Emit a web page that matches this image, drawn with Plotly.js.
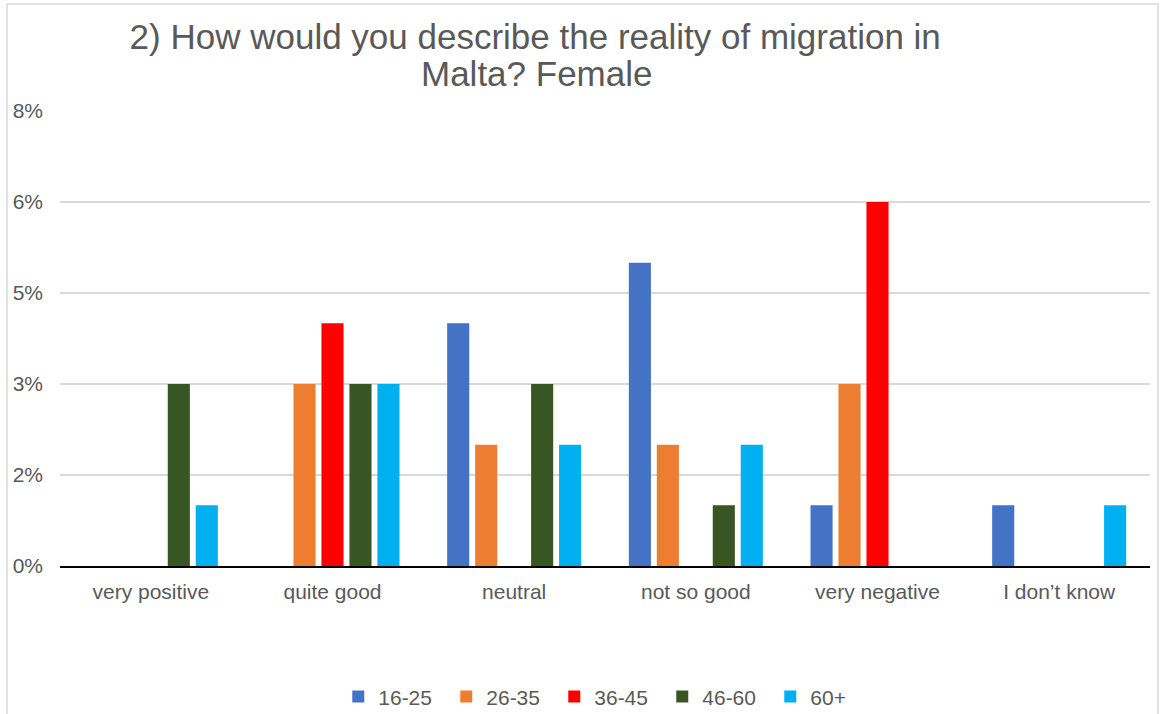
<!DOCTYPE html>
<html>
<head>
<meta charset="utf-8">
<script src="https://cdn.plot.ly/plotly-3.0.1.min.js"></script>
<style>html,body{margin:0;padding:0;background:#fff;}#chart{width:1161px;height:714px;}</style>
</head>
<body>
<div id="chart"></div>
<script>
const categories = ["very positive", "quite good", "neutral", "not so good", "very negative", "I don\u2019t know"];
const seriesNames = ["16-25", "26-35", "36-45", "46-60", "60+"];
const v16_25 = [0, 0, 0.04, 0.05, 0.01, 0.01];
const v26_35 = [0, 0.03, 0.02, 0.02, 0.03, 0];
const v36_45 = [0, 0.04, 0, 0, 0.06, 0];
const v46_60 = [0.03, 0.03, 0.03, 0.01, 0, 0];
const v60p   = [0.01, 0.03, 0.02, 0.02, 0, 0.01];
const tickVals = [0, 0.015, 0.03, 0.045, 0.06, 0.075];
const tickText = ["0%", "2%", "3%", "5%", "6%", "8%"];
const titleLine1 = "2) How would you describe the reality of migration in";
const titleLine2 = "Malta? Female";

const colors = ["#4472C4", "#ED7D31", "#FF0000", "#375623", "#00B0F0"];
const allVals = [v16_25, v26_35, v36_45, v46_60, v60p];
const font = "Liberation Sans, Arial, sans-serif";
const grey = "#595959";

const data = allVals.map((vals, i) => ({
  type: "bar",
  name: seriesNames[i],
  x: categories,
  y: vals,
  marker: {color: colors[i]},
  hoverinfo: "x+y+name"
}));

const layout = {
  width: 1161, height: 714,
  paper_bgcolor: "#fff", plot_bgcolor: "#fff",
  margin: {l: 60, r: 11, t: 111, b: 148},
  font: {family: font, color: grey, size: 21},
  title: {
    text: titleLine1,
    font: {family: font, size: 35, color: grey},
    x: 0.461, xanchor: "center", xref: "container",
    y: 1 - 37 / 714, yanchor: "middle", yref: "container"
  },
  annotations: [{
    text: titleLine2, showarrow: false,
    font: {family: font, size: 35, color: grey},
    xref: "paper", yref: "paper",
    x: (536 - 60) / 1090, xanchor: "center",
    y: (566 - 73) / 455, yanchor: "middle"
  }],
  barmode: "group",
  bargap: 0.23,
  bargroupgap: 0.21,
  xaxis: {
    showgrid: false, showline: true, linecolor: "#000", linewidth: 2,
    ticks: "", tickfont: {size: 21, color: grey, family: font},
    ticklabelstandoff: 6, fixedrange: true
  },
  yaxis: {
    range: [0, 0.075], tickvals: tickVals, ticktext: tickText,
    showgrid: true, gridcolor: "#d9d9d9", gridwidth: 1.5,
    zeroline: false, showline: false, ticks: "",
    tickfont: {size: 21, color: grey, family: font},
    ticklabelstandoff: 16, fixedrange: true
  },
  legend: {
    orientation: "h", x: 0.503, xanchor: "center",
    y: 0.024, yanchor: "middle", yref: "container",
    font: {size: 21, color: grey, family: font},
    entrywidth: 63, entrywidthmode: "pixels", itemwidth: 30
  },
  shapes: [{
    type: "rect", xref: "paper", yref: "paper",
    x0: -0.0486, x1: 1.0073, y0: -0.34, y1: 1.235,
    line: {color: "#d9d9d9", width: 1.5}, fillcolor: "rgba(0,0,0,0)", layer: "below"
  }]
};

Plotly.newPlot("chart", data, layout, {displayModeBar: false, staticPlot: true});
</script>
</body>
</html>
